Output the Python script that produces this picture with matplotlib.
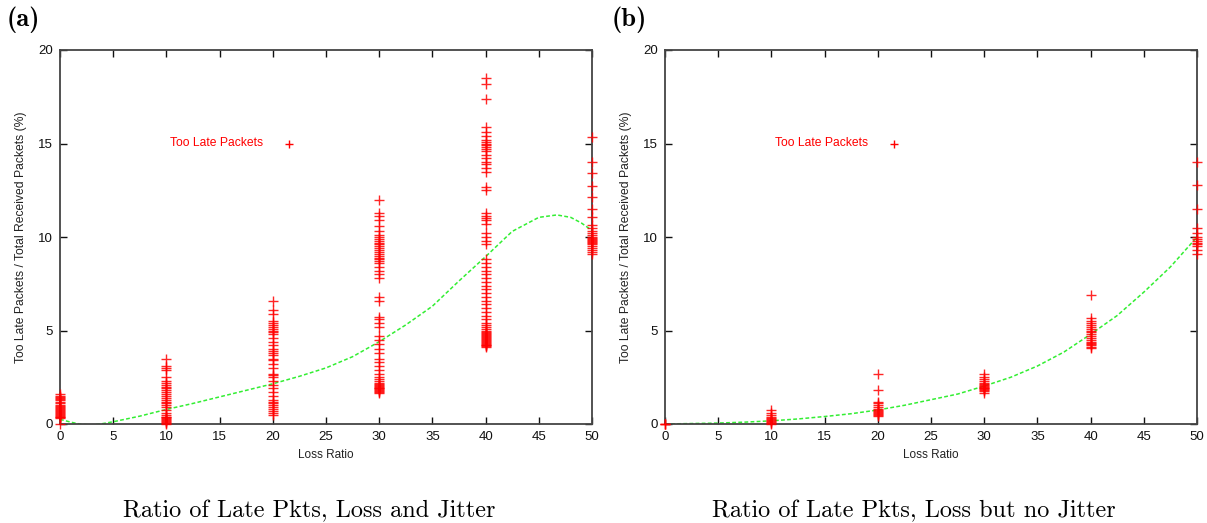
import matplotlib
matplotlib.use("Agg")
import matplotlib.pyplot as plt
import numpy as np

# ---------------- data (a): loss and jitter ----------------
a_x0 = [0.0, 0.3, 0.35, 0.4, 0.45, 0.5, 0.55, 0.6, 0.65, 0.7, 0.75, 0.8, 0.85, 0.9,
        0.95, 1.0, 1.1, 1.2, 1.3, 1.35, 1.4, 1.45, 1.5, 1.6]
a_x10 = [0.0, 0.05, 0.1, 0.15, 0.2, 0.25, 0.3, 0.35, 0.4, 0.5, 0.6, 0.75, 0.9, 1.0,
         1.1, 1.2, 1.3, 1.4, 1.5, 1.6, 1.7, 1.8, 1.9, 2.0, 2.1, 2.2, 2.3, 2.5, 2.9,
         3.0, 3.1, 3.5]
a_x20 = [0.5, 0.6, 0.7, 0.8, 0.9, 1.0, 1.1, 1.2, 1.3, 1.5, 1.7, 1.9, 2.1, 2.3, 2.5,
         2.6, 2.7, 3.0, 3.2, 3.4, 3.5, 3.7, 3.8, 3.9, 4.0, 4.2, 4.4, 4.6, 4.8, 4.9,
         5.0, 5.1, 5.2, 5.3, 5.4, 5.5, 5.9, 6.1, 6.6]
a_x30 = [1.65, 1.7, 1.75, 1.8, 1.85, 1.9, 1.95, 2.0, 2.05, 2.1, 2.15, 2.2, 2.3, 2.4,
         2.5, 2.7, 2.9, 3.1, 3.3, 3.5, 3.8, 4.0, 4.3, 4.5, 4.7, 5.2, 5.4, 5.6, 5.7,
         6.6, 6.8, 7.8, 8.0, 8.2, 8.4, 8.6, 8.7, 8.8, 8.9, 9.0, 9.1, 9.2, 9.3, 9.4,
         9.5, 9.6, 9.7, 9.8, 9.9, 10.0, 10.1, 10.3, 10.6, 10.9, 11.1, 11.3, 12.0]
a_x40 = [4.1, 4.15, 4.2, 4.25, 4.3, 4.35, 4.4, 4.45, 4.5, 4.55, 4.6, 4.65, 4.7, 4.75,
         4.8, 4.85, 4.9, 5.0, 5.1, 5.2, 5.3, 5.4, 5.6, 5.8, 6.0, 6.2, 6.4, 6.6, 6.8,
         7.0, 7.2, 7.4, 7.6, 7.8, 8.0, 8.2, 8.4, 8.6, 8.8, 9.6, 9.8, 10.0, 10.2,
         10.7, 10.9, 11.0, 11.1, 11.3, 12.5, 12.7, 13.5, 13.7, 13.9, 14.0, 14.2,
         14.4, 14.6, 14.7, 14.8, 14.9, 15.0, 15.1, 15.2, 15.4, 15.6, 15.9, 17.4,
         18.2, 18.5]
a_x50 = [9.1, 9.2, 9.3, 9.4, 9.5, 9.6, 9.7, 9.75, 9.8, 9.85, 9.9, 9.95, 10.0, 10.1,
         10.2, 10.3, 10.5, 10.65, 11.05, 11.5, 12.15, 12.75, 13.4, 14.0, 15.35]
a_groups = {0: a_x0, 10: a_x10, 20: a_x20, 30: a_x30, 40: a_x40, 50: a_x50}

a_fit_x = [0, 1, 2, 3, 3.8, 5, 7.5, 10, 12.5, 15, 17.5, 20, 22.5, 25, 27.5, 30,
           32.5, 35, 37.5, 40, 42.5, 45, 46.7, 48, 49, 50]
a_fit_y = [0.25, 0.1, -0.02, -0.05, 0.0, 0.12, 0.42, 0.78, 1.1, 1.45, 1.8, 2.15,
           2.55, 3.0, 3.6, 4.4, 5.3, 6.3, 7.65, 8.95, 10.3, 11.05, 11.18, 11.05,
           10.75, 10.35]

# ---------------- data (b): loss but no jitter ----------------
b_x0 = [0.0, 0.0, 0.0]
b_x10 = [0.0, 0.05, 0.1, 0.15, 0.2, 0.25, 0.3, 0.4, 0.5, 0.6, 0.75]
b_x20 = [0.45, 0.5, 0.55, 0.6, 0.65, 0.7, 0.75, 0.8, 0.9, 1.0, 1.1, 1.2, 1.8, 2.7]
b_x30 = [1.65, 1.75, 1.8, 1.85, 1.9, 1.95, 2.0, 2.05, 2.1, 2.15, 2.2, 2.3, 2.4, 2.5, 2.7]
b_x40 = [4.05, 4.1, 4.2, 4.3, 4.35, 4.4, 4.5, 4.6, 4.7, 4.8, 4.9, 5.0, 5.1, 5.2,
         5.3, 5.4, 5.5, 5.65, 6.9]
b_x50 = [9.1, 9.3, 9.5, 9.6, 9.7, 9.8, 9.9, 10.0, 10.2, 10.5, 11.5, 12.8, 14.0]
b_groups = {0: b_x0, 10: b_x10, 20: b_x20, 30: b_x30, 40: b_x40, 50: b_x50}

b_fit_x = [0, 5, 7.5, 10, 12.5, 15, 17.5, 20, 22.5, 25, 27.5, 30, 32.5, 35, 37.5,
           40, 42.5, 45, 47.5, 50]
b_fit_y = [0.0, 0.05, 0.1, 0.17, 0.27, 0.4, 0.55, 0.75, 1.0, 1.3, 1.6, 2.03, 2.5,
           3.1, 3.85, 4.8, 5.8, 7.05, 8.4, 10.0]

x_ticks = [0, 5, 10, 15, 20, 25, 30, 35, 40, 45, 50]
y_ticks = [0, 5, 10, 15, 20]
legend_label = "Too Late Packets"
x_label = "Loss Ratio"
y_label = "Too Late Packets / Total Received Packets (%)"
captions = ["Ratio of Late Pkts, Loss and Jitter", "Ratio of Late Pkts, Loss but no Jitter"]
panel_tags = ["(a)", "(b)"]

# ---------------- figure ----------------
W, H = 1207, 523
fig = plt.figure(figsize=(W / 100, H / 100), dpi=100)
sans = "Liberation Sans"

def px_rect(x0, x1, ytop, ybot):
    return [x0 / W, 1 - ybot / H, (x1 - x0) / W, (ybot - ytop) / H]

axes_rects = [px_rect(60, 592, 50, 424), px_rect(665, 1197, 50, 424)]
groups_all = [a_groups, b_groups]
fits = [(a_fit_x, a_fit_y), (b_fit_x, b_fit_y)]
caption_x = [309, 914]
tag_x = [7, 612]
legend_marker_color = ["red", "red"]

for i in range(2):
    ax = fig.add_axes(axes_rects[i])
    groups = groups_all[i]
    for xv, ys in groups.items():
        ax.plot([xv] * len(ys), ys, linestyle="none", marker="+", color="red",
                markersize=7, markeredgewidth=1.0, alpha=0.85, clip_on=False, zorder=3)
    fx, fy = fits[i]
    ax.plot(fx, fy, color="#33ee33", linestyle=(0, (2.5, 1.5)), linewidth=1.1, zorder=2)
    ax.set_xlim(0, 50)
    ax.set_ylim(0, 20)
    ax.set_xticks(x_ticks)
    ax.set_yticks(y_ticks)
    ax.tick_params(direction="in", length=5, width=1, top=True, right=True,
                   labelsize=9.5, colors="#111111", pad=5)
    for lab in ax.get_xticklabels() + ax.get_yticklabels():
        lab.set_family(sans)
    for sp in ax.spines.values():
        sp.set_color("#444444")
        sp.set_linewidth(1.3)
    ax.set_xlabel(x_label, fontsize=8.5, family=sans, color="#222222", labelpad=4)
    ax.set_ylabel(y_label, fontsize=8.7, family=sans, color="#222222", labelpad=8)
    # legend in gnuplot style
    ax.text(19.1, 15, legend_label, color="red", fontsize=8.7, family=sans,
            ha="right", va="center")
    ax.plot([21.5], [15], linestyle="none", marker="+", color=legend_marker_color[i],
            markersize=6, markeredgewidth=1.0)
    fig.text(caption_x[i] / W, 1 - 511 / H, captions[i], family="cmr10", fontsize=17.5,
             ha="center", va="center")
    fig.text(tag_x[i] / W, 1 - 20 / H, panel_tags[i], family="cmb10", fontsize=19,
             ha="left", va="center")

fig.savefig("out.png", dpi=100)
